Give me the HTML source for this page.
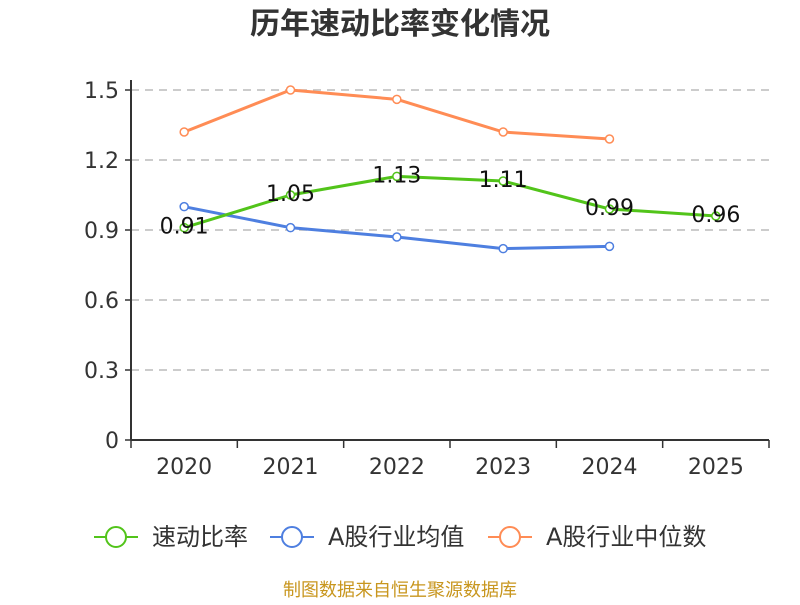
<!DOCTYPE html>
<html><head><meta charset="utf-8"><style>
body{margin:0;background:#fff}
svg text{font-family:"DejaVu Sans","Noto Sans CJK SC",sans-serif}
</style></head><body>
<svg width="800" height="600">
<text x="400" y="34" text-anchor="middle" font-size="30" font-weight="bold" fill="#333">历年速动比率变化情况</text>
<g id="grid"></g><g id="axes"></g><g id="series"></g>
<g>
<g><line x1="94" y1="537" x2="138" y2="537" stroke="#52c41a" stroke-width="2"/><circle cx="116" cy="537" r="10" fill="#fff" stroke="#52c41a" stroke-width="2"/><text x="152" y="545" font-size="24" fill="#333">速动比率</text></g>
<g><line x1="270" y1="537" x2="314" y2="537" stroke="#4e7fe0" stroke-width="2"/><circle cx="292" cy="537" r="10" fill="#fff" stroke="#4e7fe0" stroke-width="2"/><text x="328" y="545" font-size="24" fill="#333">A股行业均值</text></g>
<g><line x1="488" y1="537" x2="532" y2="537" stroke="#ff8c55" stroke-width="2"/><circle cx="510" cy="537" r="10" fill="#fff" stroke="#ff8c55" stroke-width="2"/><text x="546" y="545" font-size="24" fill="#333">A股行业中位数</text></g>
</g>
<text x="400" y="596" text-anchor="middle" font-size="18" fill="#c8961e">制图数据来自恒生聚源数据库</text>
</svg>
<script>
const categories=["2020","2021","2022","2023","2024","2025"];
const ratio=[0.91,1.05,1.13,1.11,0.99,0.96];
const industryAvg=[1.00,0.91,0.87,0.82,0.83];
const industryMedian=[1.32,1.50,1.46,1.32,1.29];
const yTicks=[0,0.3,0.6,0.9,1.2,1.5];
const ns="http://www.w3.org/2000/svg";
const x0=131,x1=769,y0=440,yTop=90;
const bw=(x1-x0)/categories.length;
const X=i=>x0+bw*(i+0.5);
const Y=v=>y0-(v/1.5)*(y0-yTop);
function mk(p,t,a){const e=document.createElementNS(ns,t);for(const k in a)e.setAttribute(k,a[k]);p.appendChild(e);return e;}
const grid=document.getElementById('grid'),axes=document.getElementById('axes'),ser=document.getElementById('series');
yTicks.forEach(v=>{
 if(v>0){const l=mk(grid,'line',{x1:x0,x2:x1,y1:Y(v),y2:Y(v),stroke:'#bbb','stroke-dasharray':'8,6','stroke-width':1.5});
 
 }
 const t=mk(axes,'text',{x:x0-12,y:Y(v)+8,'text-anchor':'end','font-size':22,fill:'#333'});t.textContent=String(v);
 
 
 mk(axes,'line',{x1:x0-6,x2:x0,y1:Y(v),y2:Y(v),stroke:'#333','stroke-width':1.5});
});
const ya=mk(axes,'line',{x1:x0,x2:x0,y1:yTop-10,y2:y0,stroke:'#333','stroke-width':2});


const xa=mk(axes,'line',{x1:x0,x2:x1,y1:y0,y2:y0,stroke:'#333','stroke-width':2});


for(let i=0;i<=categories.length;i++)mk(axes,'line',{x1:x0+bw*i,x2:x0+bw*i,y1:y0,y2:y0+8,stroke:'#333','stroke-width':1.5});
categories.forEach((c,i)=>{const t=mk(axes,'text',{x:X(i),y:y0+34,'text-anchor':'middle','font-size':22,fill:'#333'});t.textContent=c;
 
 });
function series(arr,color,name,labels){
 const g=mk(ser,'g',{});
 
 
 mk(g,'polyline',{points:arr.map((v,i)=>X(i)+','+Y(v)).join(' '),fill:'none',stroke:color,'stroke-width':3,'stroke-linejoin':'round'});
 arr.forEach((v,i)=>{const c=mk(g,'circle',{cx:X(i),cy:Y(v),r:4,fill:'#fff',stroke:color,'stroke-width':1.5});
  
  
  if(labels){const t=mk(g,'text',{x:X(i),y:Y(v)+6,'text-anchor':'middle','font-size':22,fill:'#111'});t.textContent=v.toFixed(2);
   
   }});
}
series(industryMedian,'#ff8c55','median-series',false);
series(industryAvg,'#4e7fe0','average-series',false);
series(ratio,'#52c41a','ratio-series',true);
</script>
</body></html>
